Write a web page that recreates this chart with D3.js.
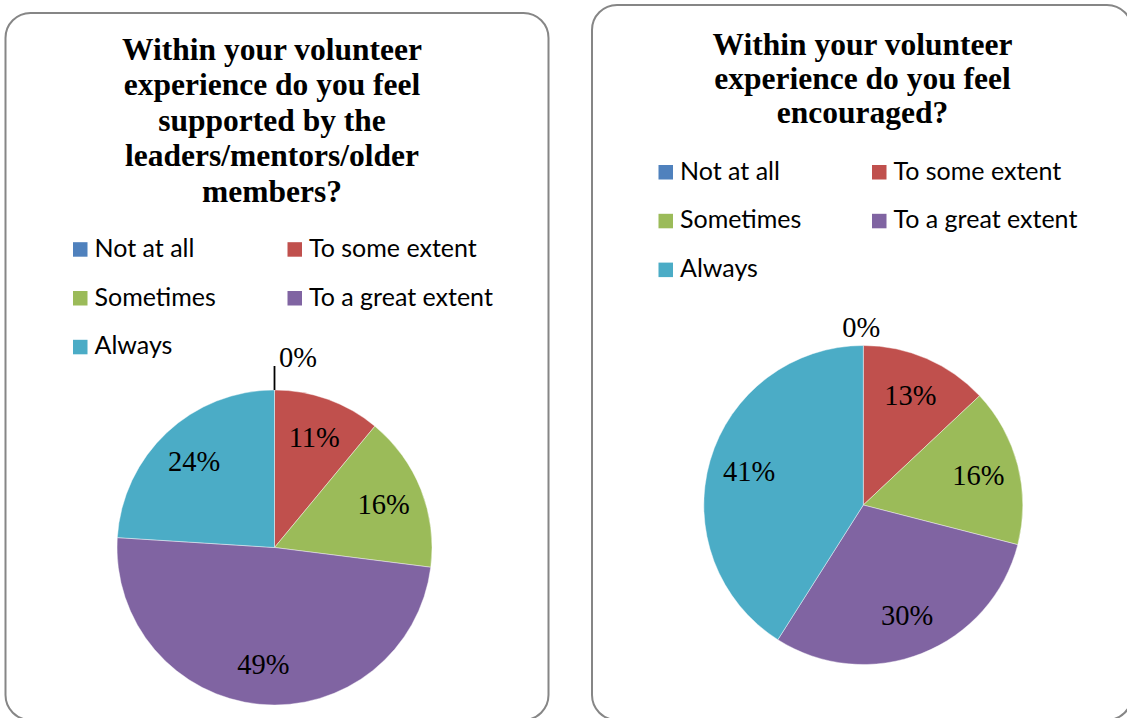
<!DOCTYPE html>
<html>
<head>
<meta charset="utf-8">
<script src="https://cdn.jsdelivr.net/npm/d3@7"></script>
<style>
  html, body { margin: 0; padding: 0; background: #fff; }
  svg { display: block; }
  .title { font-family: "Liberation Serif", serif; font-weight: bold; font-size: 31.5px; fill: #000; }
  .legend { font-family: Lato, "Liberation Sans", sans-serif; font-size: 25px; fill: #000; }
  .pct { font-family: "Liberation Serif", serif; font-size: 28.5px; fill: #000; }
</style>
</head>
<body>
<svg id="chart" width="1127" height="718"></svg>
<script>
// Answer categories, shared by both charts
const categories = ["Not at all", "To some extent", "Sometimes", "To a great extent", "Always"];
const sliceColors = ["#4F81BD", "#C0504D", "#9BBB59", "#8064A2", "#4BACC6"];

// Percent of respondents per answer
const supportedValues = [0, 11, 16, 49, 24];
const encouragedValues = [0, 13, 16, 30, 41];

// Title lines
const supportedTitle = ["Within your volunteer", "experience do you feel", "supported by the", "leaders/mentors/older", "members?"];
const encouragedTitle = ["Within your volunteer", "experience do you feel", "encouraged?"];

// Panel layout
const panels = [
  {
    title: supportedTitle, values: supportedValues,
    box: { x: 5.5, y: 13, w: 543, h: 707 },
    titleX: 272, titleY: 59.5, titleStep: 35.6,
    legendCols: [73, 287.5], legendRowY: 256.7,
    cx: 274.5, cy: 547.5, r: 157.5,
    zeroLeader: true
  },
  {
    title: encouragedTitle, values: encouragedValues,
    box: { x: 592, y: 5, w: 540, h: 715 },
    titleX: 862.5, titleY: 54.5, titleStep: 34.4,
    legendCols: [658.5, 872], legendRowY: 179.5,
    cx: 863.3, cy: 505, r: 159.5,
    zeroLeader: false
  }
];

const svg = d3.select("#chart");
const pie = d3.pie().sort(null).value(d => d).startAngle(0).endAngle(2 * Math.PI);
const pct = v => `${v}%`;

panels.forEach(p => {
  const g = svg.append("g");

  // Rounded frame
  g.append("rect")
    .attr("x", p.box.x).attr("y", p.box.y)
    .attr("width", p.box.w).attr("height", p.box.h)
    .attr("rx", 25).attr("ry", 25)
    .attr("fill", "#fff")
    .attr("stroke", "#868686").attr("stroke-width", 2);

  // Title
  g.append("text").attr("class", "title")
    .attr("text-anchor", "middle")
    .selectAll("tspan").data(p.title).join("tspan")
    .attr("x", p.titleX)
    .attr("y", (d, i) => p.titleY + i * p.titleStep)
    .text(d => d);

  // Legend: two columns, filled row by row
  const legendItems = categories.map((c, i) => ({ name: c, color: sliceColors[i], col: i % 2, row: Math.floor(i / 2) }));
  const items = g.selectAll("g.legend-item").data(legendItems).join("g")
    .attr("class", "legend-item")
    .attr("transform", d => `translate(${p.legendCols[d.col]},${p.legendRowY + d.row * 48.8})`);
  items.append("rect")
    .attr("x", 0).attr("y", -14.5).attr("width", 14.5).attr("height", 14.5)
    .attr("fill", d => d.color);
  items.append("text").attr("class", "legend")
    .attr("x", 21.5).attr("y", 0)
    .text(d => d.name);

  // Pie
  const arcs = pie(p.values);
  const arc = d3.arc().innerRadius(0).outerRadius(p.r);
  const labelArc = d3.arc().innerRadius(p.r * 0.745).outerRadius(p.r * 0.745);
  const pieG = g.append("g").attr("transform", `translate(${p.cx},${p.cy})`);

  pieG.selectAll("path").data(arcs).join("path")
    .attr("d", arc)
    .attr("fill", (d, i) => sliceColors[i])
    .attr("stroke", "#fff").attr("stroke-width", 0.6).attr("stroke-opacity", 0.7);

  // Labels inside non-empty slices
  pieG.selectAll("text.pct").data(arcs.filter(d => d.value > 0)).join("text")
    .attr("class", "pct")
    .attr("text-anchor", "middle")
    .attr("dy", "0.33em")
    .attr("transform", d => `translate(${labelArc.centroid(d)})`)
    .text(d => pct(d.value));

  // Empty slices get their label just outside the rim
  arcs.filter(d => d.value === 0).forEach(d => {
    const a = (d.startAngle + d.endAngle) / 2;
    const rimX = p.r * Math.sin(a), rimY = -p.r * Math.cos(a);
    if (p.zeroLeader) {
      pieG.append("line")
        .attr("x1", rimX).attr("y1", rimY)
        .attr("x2", rimX).attr("y2", rimY - 24)
        .attr("stroke", "#000").attr("stroke-width", 1.8);
      pieG.append("text").attr("class", "pct")
        .attr("x", rimX + 4.5).attr("y", rimY - 23)
        .text(pct(d.value));
    } else {
      pieG.append("text").attr("class", "pct")
        .attr("text-anchor", "middle")
        .attr("x", rimX - 2).attr("y", rimY - 9)
        .text(pct(d.value));
    }
  });
});
</script>
</body>
</html>
